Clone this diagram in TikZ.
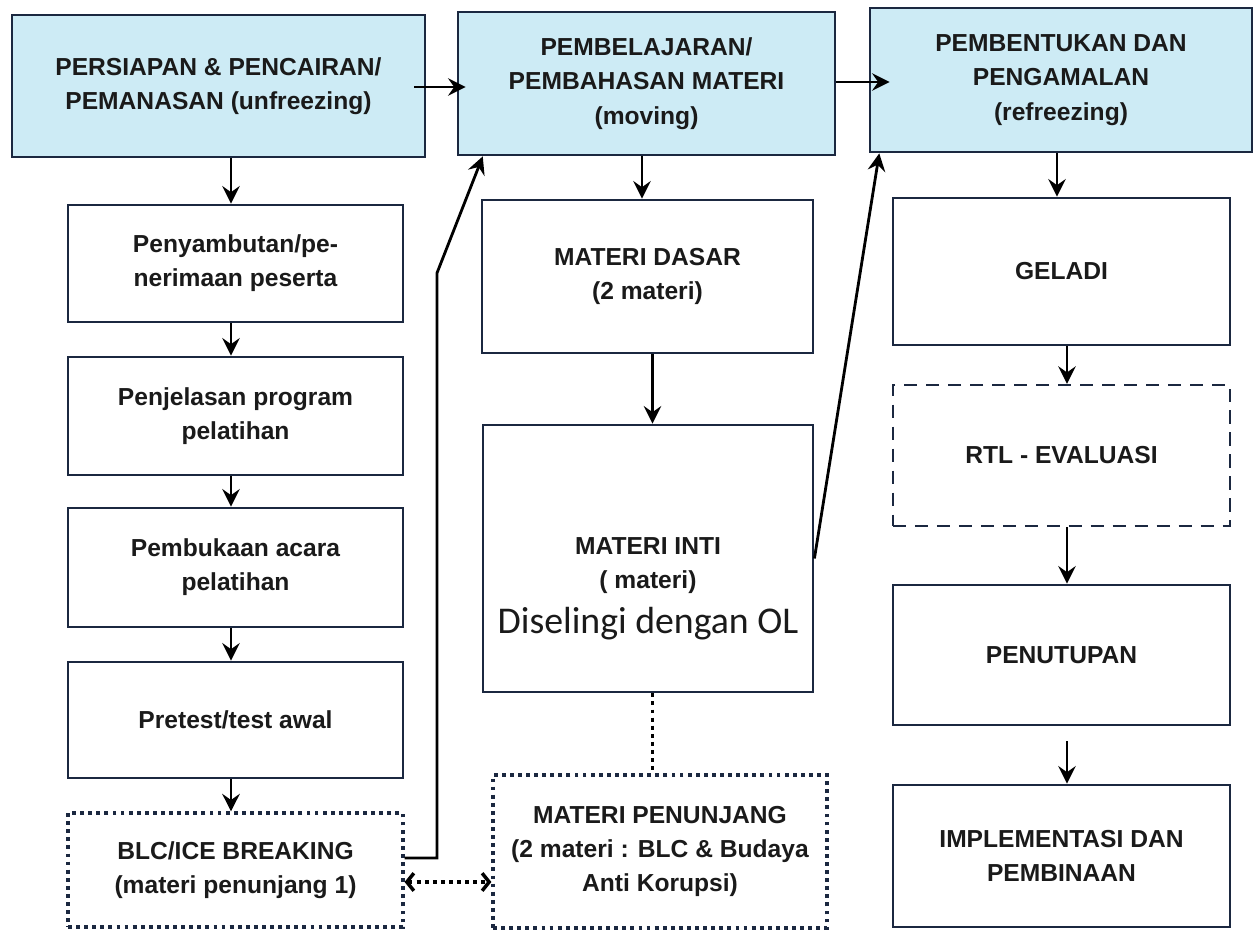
\documentclass[tikz,border=0pt]{standalone}
\usepackage{fontspec}
\setmainfont{Liberation Sans}
\newfontfamily\calibri{Carlito}
\usetikzlibrary{arrows.meta}
\definecolor{garis}{HTML}{1B2840}
\definecolor{biru}{HTML}{CDEBF5}
\definecolor{teks}{HTML}{1A1A1A}

\begin{document}
\begin{tikzpicture}[
  box/.style={draw=garis, line width=1.6pt, align=center, text=teks,
    font=\bfseries\fontsize{14}{19.5}\selectfont, inner sep=2pt},
  bluebox/.style={box, fill=biru},
  dotbox/.style={box, line width=1.8pt, dash pattern=on 2.2pt off 2.4pt},
  dashbox/.style={box, line width=1.3pt, dash pattern=on 7.5pt off 5pt},
  arr/.style={line width=1.4pt, -{Stealth[length=10pt,width=10pt,inset=3.5pt]}},
  dotline/.style={line width=1.8pt, dash pattern=on 2.2pt off 2.4pt},
  dotarr/.style={dotline, {Straight Barb[length=4pt,width=10pt,line width=2pt]}-{Straight Barb[length=4pt,width=10pt,line width=2pt]}},
]
\useasboundingbox (0,0) rectangle (25.14,-18.6);
% kolom 1 (unfreezing)
\node[bluebox, minimum width=8.26cm, minimum height=2.84cm] (persiapan) at (4.37,-1.72)
  {PERSIAPAN \& PENCAIRAN/\\PEMANASAN (unfreezing)};
\node[box, minimum width=6.70cm, minimum height=2.34cm] (sambut) at (4.71,-5.27)
  {Penyambutan/pe-\\nerimaan peserta};
\node[box, minimum width=6.70cm, minimum height=2.36cm] (jelas) at (4.71,-8.32)
  {Penjelasan program\\pelatihan};
\node[box, minimum width=6.70cm, minimum height=2.38cm] (buka) at (4.71,-11.35)
  {Pembukaan acara\\pelatihan};
\node[box, minimum width=6.70cm, minimum height=2.32cm] (pretest) at (4.71,-14.40)
  {Pretest/test awal};
\node[dotbox, minimum width=6.70cm, minimum height=2.28cm] (blc) at (4.71,-17.40)
  {BLC/ICE BREAKING\\(materi penunjang 1)};
% kolom 2 (moving)
\node[bluebox, minimum width=7.54cm, minimum height=2.86cm] (belajar) at (12.93,-1.67)
  {PEMBELAJARAN/\\PEMBAHASAN MATERI\\(moving)};
\node[box, minimum width=6.62cm, minimum height=3.06cm] (dasar) at (12.95,-5.53)
  {MATERI DASAR\\(2 materi)};
\node[box, minimum width=6.60cm, minimum height=5.34cm] (inti) at (12.96,-11.17) {};
\node[align=center, text=teks, font=\bfseries\fontsize{14}{19.5}\selectfont, yshift=-0.6cm]
  (intitxt) at (inti) {MATERI INTI\\( materi)\\[6pt]{\calibri\mdseries\fontsize{21.5}{25}\selectfont Diselingi dengan OL}};
\node[dotbox, minimum width=6.68cm, minimum height=3.06cm] (penunjang) at (13.20,-17.03)
  {MATERI PENUNJANG\\(2 materi : BLC \& Budaya\\Anti Korupsi)};
% kolom 3 (refreezing)
\node[bluebox, minimum width=7.64cm, minimum height=2.88cm] (bentuk) at (21.22,-1.60)
  {PEMBENTUKAN DAN\\PENGAMALAN\\(refreezing)};
\node[box, minimum width=6.74cm, minimum height=2.94cm] (geladi) at (21.23,-5.43) {GELADI};
\node[dashbox, minimum width=6.74cm, minimum height=2.82cm] (rtl) at (21.23,-9.11) {RTL - EVALUASI};
\node[box, minimum width=6.74cm, minimum height=2.80cm] (tutup) at (21.23,-13.10) {PENUTUPAN};
\node[box, minimum width=6.74cm, minimum height=2.84cm] (impl) at (21.23,-17.12)
  {IMPLEMENTASI DAN\\PEMBINAAN};
% titik bantu
\coordinate (k1) at (4.62,0);
\coordinate (k2a) at (12.84,0);
\coordinate (k2b) at (13.05,0);
\coordinate (k3a) at (21.14,0);
\coordinate (k3b) at (21.34,0);
\coordinate (r1) at (0,-1.74);
\coordinate (r2) at (0,-1.64);
\coordinate (r3) at (0,-17.64);
\coordinate (tekuk1) at (8.74,-17.16);
\coordinate (tekuk2) at (8.74,-5.46);
% panah
\draw[arr, shorten <=-0.24cm, shorten >=-0.18cm] (persiapan.east |- r1) -- (belajar.west |- r1);
\draw[arr, shorten >=-0.42cm] (belajar.east |- r2) -- (bentuk.west |- r2);
\draw[arr] (persiapan.south -| k1) -- (sambut.north -| k1);
\draw[arr] (sambut.south -| k1) -- (jelas.north -| k1);
\draw[arr] (jelas.south -| k1) -- (buka.north -| k1);
\draw[arr] (buka.south -| k1) -- (pretest.north -| k1);
\draw[arr] (pretest.south -| k1) -- (blc.north -| k1);
\draw[arr] (belajar.south -| k2a) -- (dasar.north -| k2a);
\draw[arr] (dasar.south -| k2b) -- (inti.north -| k2b);
\draw[dotline] (inti.south -| k2b) -- (penunjang.north -| k2b);
\draw[arr] (bentuk.south -| k3a) -- (geladi.north -| k3a);
\draw[arr] (geladi.south -| k3b) -- (rtl.north -| k3b);
\draw[arr] (rtl.south -| k3b) -- (tutup.north -| k3b);
\draw[arr, shorten <=0.3cm] (tutup.south -| k3b) -- (impl.north -| k3b);
\draw[arr, line width=1.6pt] (blc.east |- tekuk1) -- (tekuk1) -- (tekuk2) -- (belajar.204);
\draw[arr, line width=1.6pt] (inti.east) -- (bentuk.202);
\draw[dotarr] (blc.east |- r3) -- (penunjang.west |- r3);
\end{tikzpicture}
\end{document}
